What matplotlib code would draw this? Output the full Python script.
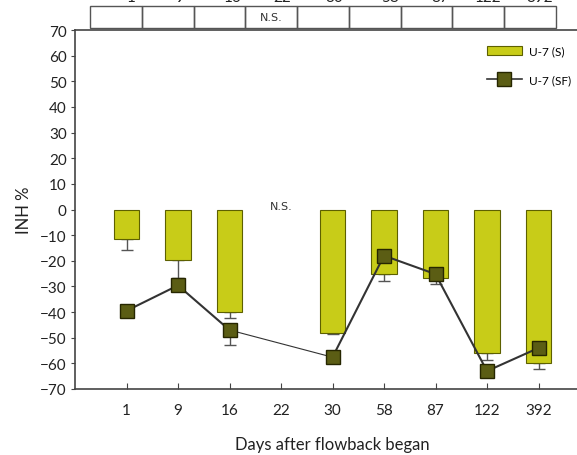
import numpy as np
import matplotlib
matplotlib.use("Agg")
import matplotlib.pyplot as plt
from matplotlib.patches import Rectangle, Patch
from matplotlib.lines import Line2D

plt.rcParams['font.family'] = ['Lato', 'DejaVu Sans']

# sampling days after flowback began
days = ['1', '9', '16', '22', '30', '58', '87', '122', '392']

# U-7 (S): bars, with downward error bars
s_vals = [-11.5, -19.6, -40.0, np.nan, -48.0, -25.2, -26.7, -55.8, -59.7]
s_err = [4.1, 7.0, 2.5, np.nan, 0.6, 2.8, 2.3, 2.9, 2.6]

# U-7 (SF): squares joined by a line
sf_vals = [-39.5, -29.6, -47.0, np.nan, -57.6, -18.0, -25.2, -63.0, -54.0]
sf_err = [0.0, 0.0, 6.0, np.nan, 0.0, 0.0, 0.0, 0.0, 0.0]

ns_days = ['22']

bar_color = '#c8cc18'
bar_edge = '#5d6000'
mk_face = '#5b5d14'
mk_edge = '#262600'
axis_color = '#444444'

W, H = 577, 456
fig = plt.figure(figsize=(W / 100, H / 100), dpi=100)
ax = fig.add_axes([75 / W, (H - 390) / H, 515 / W, 359 / H])

x = np.arange(len(days))
s = np.array(s_vals)
sf = np.array(sf_vals)

ax.bar(x, s, width=0.5, color=bar_color, edgecolor=bar_edge, linewidth=0.8, zorder=2)
ok = ~np.isnan(s)
ax.errorbar(x[ok], s[ok], yerr=[np.array(s_err)[ok], np.zeros(ok.sum())],
            fmt='none', ecolor='#555555', elinewidth=1.0, capsize=4, zorder=1)

# line through the SF points, thin where a day is missing
good = np.where(~np.isnan(sf))[0]
for a, b in zip(good[:-1], good[1:]):
    lw = 1.5 if b - a == 1 else 0.8
    ax.plot([a, b], [sf[a], sf[b]], color='#333333', lw=lw, zorder=3)
sfe = np.array(sf_err)
has_err = good[sfe[good] > 0]
ax.errorbar(has_err, sf[has_err], yerr=[sfe[has_err], np.zeros(len(has_err))],
            fmt='none', ecolor='#555555', elinewidth=1.0, capsize=4, zorder=3)
ax.plot(good, sf[good], ls='none', marker='s', ms=10.5, mfc=mk_face,
        mec=mk_edge, mew=1.0, zorder=4)

for d in ns_days:
    ax.text(days.index(d), 1.2, 'N.S.', ha='center', va='center', fontsize=8,
            family='DejaVu Sans', color='#333333')

ax.set_xlim(-1, 9)
ax.set_ylim(-70, 70)
ax.set_yticks(np.arange(-70, 71, 10))
ax.set_xticks(x)
ax.set_xticklabels(days)
ax.tick_params(axis='y', direction='out', length=3, labelsize=11, colors=axis_color,
               labelcolor='#222222', pad=3)
ax.tick_params(axis='x', direction='in', length=4, labelsize=11, colors=axis_color,
               labelcolor='#222222', pad=10)
for side in ['left', 'bottom', 'top']:
    ax.spines[side].set_color(axis_color)
    ax.spines[side].set_linewidth(1.2)
ax.spines['right'].set_visible(False)

ax.set_ylabel('INH %', fontsize=12, color='#222222', labelpad=6)
ax.set_xlabel('Days after flowback began', fontsize=12, color='#222222', labelpad=14)

# strip of the panel above: boxed cells and cut-off day labels
for k in range(len(days)):
    x0 = 90 + 51.75 * k
    fig.add_artist(Rectangle((x0 / W, 1 - 29 / H), 51.75 / W, 22 / H,
                             transform=fig.transFigure, fill=False,
                             edgecolor='#555555', lw=1.0))
fig.text((90 + 51.75 * 3.5) / W, 1 - 18 / H, 'N.S.', ha='center', va='center',
         fontsize=8, family='DejaVu Sans', color='#333333')
top_pos = [131, 180, 233, 282, 334, 390, 440, 488, 540]
for px, d in zip(top_pos, days):
    fig.text(px / W, 1 - 2 / H, d, ha='center', va='baseline', fontsize=11,
             color='#222222')

handles = [Patch(facecolor=bar_color, edgecolor=bar_edge, lw=0.8),
           Line2D([], [], color='#333333', lw=1.2, marker='s', ms=10,
                  mfc=mk_face, mec=mk_edge)]
ax.legend(handles, ['U-7 (S)', 'U-7 (SF)'], loc='upper left',
          bbox_to_anchor=(482 / W, 1 - 42 / H), bbox_transform=fig.transFigure,
          frameon=False, fontsize=8.5, handlelength=3.0, handletextpad=0.6,
          labelspacing=1.5, borderaxespad=0)

fig.savefig('out.png', dpi=100)
